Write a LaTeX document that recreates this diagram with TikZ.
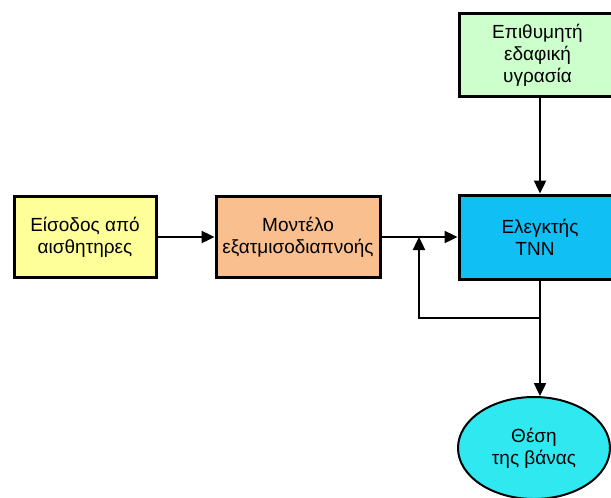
\documentclass[tikz,border=0pt]{standalone}
\usepackage{fontspec}
\setmainfont{Liberation Sans}
\usetikzlibrary{arrows.meta,shapes.geometric}
\definecolor{cyellow}{HTML}{FFFF99}
\definecolor{corange}{HTML}{F9BF8F}
\definecolor{cgreen}{HTML}{CCFFCC}
\definecolor{cblue}{HTML}{10C0F4}
\definecolor{ccyan}{HTML}{30E8F0}
\tikzset{
  blockbox/.style={draw=black, line width=3pt, rectangle, align=center, font=\fontsize{19}{22}\selectfont, inner sep=0pt},
  arr/.style={line width=2.4pt, -{Triangle[length=13pt,width=12pt]}},
  plainline/.style={line width=2.4pt}
}
\begin{document}
\begin{tikzpicture}[x=1pt,y=-1pt]
\useasboundingbox (0,0) rectangle (611,498);
\clip (0,0) rectangle (611,498);
\fill[white] (0,0) rectangle (611,498);
\node[blockbox, fill=cyellow, minimum width=142pt, minimum height=81pt] (inp) at (85,237) {Είσοδος από\\αισθητηρες};
\node[blockbox, fill=corange, minimum width=164pt, minimum height=81pt] (model) at (298,237) {Μοντέλο\\εξατμισοδιαπνοής};
\node[blockbox, fill=cgreen, minimum width=162pt, minimum height=83pt, text width=162pt, align=center] (want) at (540,55) {\hspace*{-5pt}Επιθυμητή\\\hspace*{-5pt}εδαφική\\\hspace*{-5pt}υγρασία};
\node[blockbox, fill=cblue, minimum width=162pt, minimum height=84pt, text width=162pt, align=center] (ctrl) at (540,237) {Ελεγκτής\\\hspace*{-10pt}TNN};
\node[draw=black, line width=2pt, ellipse, fill=ccyan, minimum width=152pt, minimum height=102pt, inner sep=0pt, align=center, font=\fontsize{19}{22}\selectfont] (valve) at (534,448) {Θέση\\της βάνας};
\coordinate (split) at (540,318);
\coordinate (join) at (419,237);
\draw[arr] (inp.east) -- (model.west);
\draw[arr] (model.east) -- (ctrl.west);
\draw[arr] (want.south) -- (ctrl.north);
\draw[plainline] (ctrl.south) -- (split);
\draw[arr] (split) -- (split |- valve.north);
\draw[arr] (split) -| (join);
\end{tikzpicture}
\end{document}
